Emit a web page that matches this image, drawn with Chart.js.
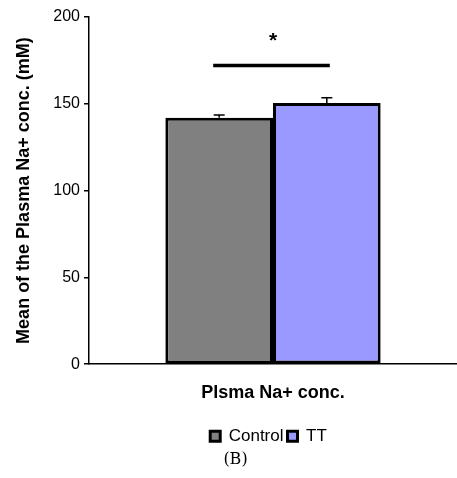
<!DOCTYPE html>
<html lang="en">
<head>
<meta charset="UTF-8">
<title>Plasma Na+ conc.</title>
<script src="https://cdn.jsdelivr.net/npm/chart.js@4.4.0/dist/chart.umd.min.js"></script>
<style>
	html, body { margin: 0; padding: 0; background: #fff; }
	#wrap { width: 457px; height: 478px; }
</style>
</head>
<body>
	<div id="wrap"><canvas id="pizarra"></canvas></div>

	<script>
		// data
		const categorias = ['Plsma Na+ conc.']
		const grupos = ['Control', 'TT']
		const medias = [142, 150.5]
		const errores = [1.5, 3]
		const colores = ['#808080', '#9999FF']
		const yTicks = [0, 50, 100, 150, 200]
		const nivelSignif = 172   // height of the significance bar
		const nivelAsterisco = 186

		const fuente = 'Arial, "Liberation Sans", sans-serif'

		// error bars (upper whisker only) + significance mark
		const extras = {
			id: 'extras',
			afterDatasetsDraw(chart) {
				const ctx = chart.ctx
				const y = chart.scales.y
				const centros = []
				chart.data.datasets.forEach((ds, i) => {
					const bar = chart.getDatasetMeta(i).data[0]
					centros.push(bar.x)
					const top = y.getPixelForValue(medias[i])
					const tope = y.getPixelForValue(medias[i] + errores[i])
					ctx.save()
					ctx.strokeStyle = '#000'
					ctx.lineWidth = 1.5
					ctx.beginPath()
					ctx.moveTo(bar.x, top)
					ctx.lineTo(bar.x, tope)
					ctx.moveTo(bar.x - 5.5, tope)
					ctx.lineTo(bar.x + 5.5, tope)
					ctx.stroke()
					ctx.restore()
				})
				const ys = y.getPixelForValue(nivelSignif)
				ctx.save()
				ctx.strokeStyle = '#000'
				ctx.lineWidth = 3.5
				ctx.beginPath()
				ctx.moveTo(centros[0] - 6, ys)
				ctx.lineTo(centros[1] + 3, ys)
				ctx.stroke()
				ctx.fillStyle = '#000'
				ctx.font = 'bold 21px ' + fuente
				ctx.textAlign = 'center'
				ctx.textBaseline = 'middle'
				ctx.fillText('*', (centros[0] + centros[1]) / 2, y.getPixelForValue(nivelAsterisco))
				ctx.restore()
			}
		}

		// nudge legend and caption to where they sit in the figure
		const mover = {
			id: 'mover',
			afterLayout(chart) {
				chart.legend.left += 40
				chart.legend.right += 40
				chart.titleBlock.left += 7
				chart.titleBlock.right += 7
			}
		}

		const g = document.getElementById('pizarra')
		const myChart = new Chart(g, {
			type: 'bar',
			data: {
				labels: categorias,
				datasets: grupos.map((nombre, i) => ({
					label: nombre,
					data: [medias[i]],
					backgroundColor: colores[i],
					borderColor: '#000',
					borderWidth: 3,
					borderSkipped: false,
					barPercentage: 1,
					categoryPercentage: 0.585
				}))
			},
			options: {
				responsive: true,
				maintainAspectRatio: false,
				animation: false,
				layout: { padding: { top: 17, right: 0, left: 0, bottom: 0 } },
				plugins: {
					tooltip: { enabled: false },
					legend: {
						position: 'bottom',
						labels: {
							boxWidth: 10,
							boxHeight: 10,
							padding: 4,
							color: '#000',
							font: { family: fuente, size: 17 }
						}
					},
					title: {
						display: true,
						position: 'bottom',
						text: '(B)',
						color: '#000',
						font: { family: '"DejaVu Serif", "Liberation Serif", serif', size: 16, weight: 'normal' },
						padding: { top: -5, bottom: 9 }
					}
				},
				scales: {
					x: {
						afterFit(scale) { scale.height += 10 },
						grid: { display: false },
						border: { color: '#000', width: 1.5 },
						ticks: {
							color: '#000',
							padding: 10,
							font: { family: fuente, size: 18, weight: 'bold' }
						}
					},
					y: {
						min: 0,
						max: 200,
						afterFit(scale) { scale.width = 89 },
						afterBuildTicks(scale) { scale.ticks = yTicks.map(v => ({ value: v })) },
						grid: { drawOnChartArea: false, drawTicks: true, tickLength: 5, color: '#000', lineWidth: 1.5 },
						border: { color: '#000', width: 1.5 },
						ticks: {
							color: '#000',
							padding: 4,
							font: { family: fuente, size: 16 }
						},
						title: {
							display: true,
							text: 'Mean of the Plasma Na+ conc. (mM)',
							color: '#000',
							padding: { top: 13, bottom: 0 },
							font: { family: fuente, size: 18, weight: 'bold' }
						}
					}
				}
			},
			plugins: [extras, mover]
		})
	</script>
</body>
</html>
